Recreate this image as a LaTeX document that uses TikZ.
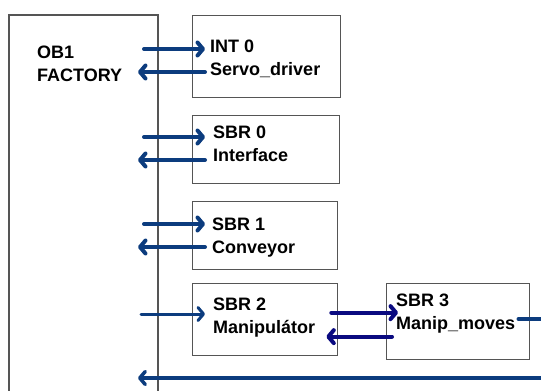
\documentclass[tikz,border=0pt]{standalone}
\usepackage{fontspec}
\setmainfont{Liberation Sans}
\usetikzlibrary{arrows.meta,calc}
\definecolor{flowblue}{RGB}{12,60,126}
\definecolor{navyblue}{RGB}{10,10,128}
\definecolor{boxgray}{RGB}{85,85,85}
\tikzset{
  blk/.style={draw=boxgray,line width=1.3pt,anchor=north west,inner sep=0pt},
  lbl/.style={anchor=north west,align=left,inner sep=0pt,font=\bfseries\fontsize{18}{23}\selectfont},
  flow/.style={draw=flowblue,line width=4pt,line cap=round},
}
\begin{document}
\begin{tikzpicture}[x=1pt,y=-1pt,>={Straight Barb[length=5.5pt,width=13pt,line join=round,line cap=round]}]
\useasboundingbox (0,0) rectangle (541,391);
% main block, open at the bottom
\draw[boxgray,line width=1.3pt](9,391)--(9,15)--(158,15)--(158,391);
\node[lbl] (ob1) at (37,46) {OB1\\FACTORY};
% called blocks
\node[blk,minimum width=148pt,minimum height=82pt] (int0) at (192,15) {};
\node[blk,minimum width=147pt,minimum height=68pt] (sbr0) at (192,115) {};
\node[blk,minimum width=145pt,minimum height=68pt] (sbr1) at (192,201) {};
\node[blk,minimum width=145pt,minimum height=72pt] (sbr2) at (192,283) {};
\node[blk,minimum width=143pt,minimum height=76pt] (sbr3) at (386,283) {};
\node[lbl] (int0txt) at (210,40) {INT 0\\Servo\_driver};
\node[lbl] (sbr0txt) at (213,126) {SBR 0\\Interface};
\node[lbl] (sbr1txt) at (212,218) {SBR 1\\Conveyor};
\node[lbl] (sbr2txt) at (213,298) {SBR 2\\Manipulátor};
\node[lbl] (sbr3txt) at (396,294) {SBR 3\\Manip\_moves};
% calls and returns
\foreach \n/\y in {int0/49,sbr0/137,sbr1/224}{
  \coordinate (\n-s) at (144,\y);
  \coordinate (\n-r) at (138,\y+23);
  \draw[flow,->] (\n-s) -- ($(\n.west |- \n-s)+(13,0)$);
  \draw[flow,->] ($(\n.west |- \n-r)+(13,0)$) -- (\n-r);
}
\coordinate (sbr2-s) at (141,314);
\draw[flow,line width=3pt,->] (sbr2-s) -- ($(sbr2.west |- sbr2-s)+(13,0)$);
\coordinate (c23) at ($(sbr2.east)+(-7,-7)$);
\coordinate (r23) at ($(sbr3.west)+(6,15)$);
\draw[flow,draw=navyblue,->] (c23) -- (sbr3.west |- c23) -- ++(12,0);
\draw[flow,draw=navyblue,->] (r23) -- ($(sbr2.east |- r23)+(-12,0)$);
\coordinate (sbr3-o) at (541,319);
\draw[flow,line width=3.5pt] ($(sbr3.east |- sbr3-o)+(-12,0)$) -- (sbr3-o);
\coordinate (ret) at (541,378);
\draw[flow,line width=3.5pt,->] (ret) -- (138,378);
\end{tikzpicture}
\end{document}
